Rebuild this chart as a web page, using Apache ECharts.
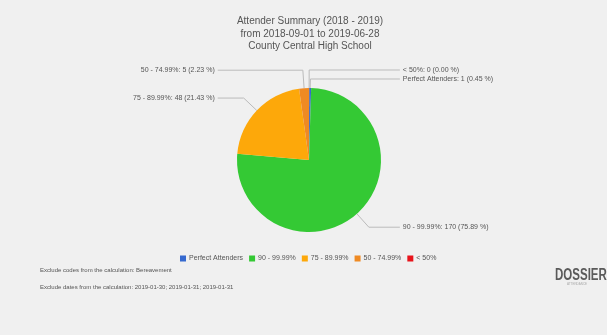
<!DOCTYPE html>
<html>
<head>
<meta charset="utf-8">
<script src="https://cdn.jsdelivr.net/npm/echarts@6/dist/echarts.min.js"></script>
<style>
  html, body { margin: 0; padding: 0; background: #f0f0f0; }
  #chart { width: 607px; height: 335px; }
</style>
</head>
<body>
<div id="chart"></div>
<script>
// Attendance bands, in the order the slices are drawn (clockwise from 12 o'clock)
const categories = ['< 50%', 'Perfect Attenders', '90 - 99.99%', '75 - 89.99%', '50 - 74.99%'];
const counts = [0, 1, 170, 48, 5];
const percents = ['0.00', '0.45', '75.89', '21.43', '2.23'];
const colors = ['#e8141b', '#3569cf', '#34c934', '#fda80a', '#ef8a23'];
// Legend order
const legendOrder = ['Perfect Attenders', '90 - 99.99%', '75 - 89.99%', '50 - 74.99%', '< 50%'];

const titleLines = [
  'Attender Summary (2018 - 2019)',
  'from 2018-09-01 to 2019-06-28',
  'County Central High School'
];
const excludeCodes = 'Exclude codes from the calculation: Bereavement';
const excludeDates = 'Exclude dates from the calculation: 2019-01-30; 2019-01-31; 2019-01-31';

const chart = echarts.init(document.getElementById('chart'), null, { renderer: 'canvas' });

// slices on the right half get a slightly longer horizontal leader
const rightSide = i => i < 3;

const pieData = categories.map((name, i) => ({
  name: name,
  value: counts[i],
  pct: percents[i],
  itemStyle: { color: colors[i] },
  labelLine: { length2: rightSide(i) ? 31 : 26 }
}));

const font = 'Liberation Sans';

chart.setOption({
  backgroundColor: '#f0f0f0',
  animation: false,
  legend: {
    data: legendOrder,
    bottom: 68,
    left: 175,
    itemWidth: 6,
    itemHeight: 6,
    itemGap: 6,
    icon: 'rect',
    textStyle: { fontFamily: font, fontSize: 7, color: '#555', padding: [0, 0, 0, -2] }
  },
  series: [{
    type: 'pie',
    center: [309, 160],
    radius: 72,
    // a hair off 90 so the empty first band lands on the right-hand side
    startAngle: 89.9,
    clockwise: true,
    data: pieData,
    avoidLabelOverlap: true,
    label: {
      show: true,
      fontFamily: font,
      fontSize: 7,
      lineHeight: 7,
      color: '#555',
      alignTo: 'labelLine',
      distanceToLabelLine: 3,
      formatter: p => `${p.name}: ${p.value} (${p.data.pct} %)`
    },
    labelLine: {
      show: true,
      length: 18,
      length2: 26,
      lineStyle: { color: '#bbb', width: 1 }
    },
    itemStyle: { borderWidth: 0 },
    emphasis: { disabled: true }
  }],
  graphic: [
    {
      type: 'text', x: 310, y: 15,
      style: {
        text: titleLines.join('\n'), fontFamily: font, fontSize: 10, lineHeight: 12.5,
        fill: '#555', align: 'center'
      }
    },
    {
      type: 'text', left: 40, top: 267,
      style: { text: excludeCodes, fontFamily: font, fontSize: 6, fill: '#555' }
    },
    {
      type: 'text', left: 40, top: 284,
      style: { text: excludeDates, fontFamily: font, fontSize: 6, fill: '#555' }
    },
    {
      type: 'text', x: 555, y: 268, scaleX: 0.72,
      style: { text: 'DOSSIER', fontFamily: font, fontSize: 16, fontWeight: 'bold', fill: '#5a5a5a' }
    },
    {
      type: 'text', x: 567, y: 283,
      style: { text: 'ATTENDANCE', fontFamily: font, fontSize: 3, fill: '#aaa' }
    }
  ]
});
</script>
</body>
</html>
